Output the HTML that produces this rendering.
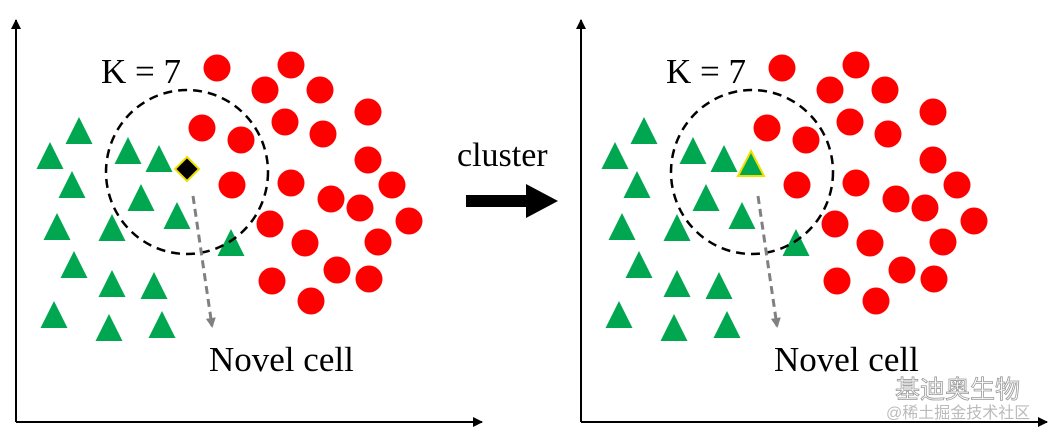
<!DOCTYPE html><html><head><style>body{margin:0;background:#fff}</style></head><body>
<svg width="1062" height="439" xmlns="http://www.w3.org/2000/svg">
<defs>
<marker id="ah" markerWidth="10" markerHeight="10" refX="9" refY="5" orient="auto" markerUnits="userSpaceOnUse"><path d="M0,0 L10,5 L0,10 z" fill="#000"/></marker>
<marker id="gh" markerWidth="10" markerHeight="10" refX="8" refY="5" orient="auto" markerUnits="userSpaceOnUse"><path d="M0,0 L10,5 L0,10 z" fill="#808080"/></marker>
<g id="pts">
<g fill="#ff0000">
<circle cx="217" cy="68" r="13.5"/><circle cx="291" cy="65" r="13.5"/><circle cx="265" cy="90" r="13.5"/><circle cx="320" cy="90" r="13.5"/><circle cx="368" cy="112" r="13.5"/><circle cx="202" cy="128" r="13.5"/><circle cx="285" cy="122" r="13.5"/><circle cx="241" cy="140" r="13.5"/><circle cx="323" cy="134" r="13.5"/><circle cx="368" cy="160" r="13.5"/><circle cx="232" cy="185" r="13.5"/><circle cx="291" cy="183" r="13.5"/><circle cx="392" cy="185" r="13.5"/><circle cx="331" cy="199" r="13.5"/><circle cx="360" cy="208" r="13.5"/><circle cx="409" cy="221" r="13.5"/><circle cx="270" cy="224" r="13.5"/><circle cx="305" cy="243" r="13.5"/><circle cx="378" cy="242" r="13.5"/><circle cx="337" cy="270" r="13.5"/><circle cx="369" cy="279" r="13.5"/><circle cx="272" cy="281" r="13.5"/><circle cx="311" cy="301" r="13.5"/>
</g>
<g fill="#00a650">
<path d="M79,117 l13.5,27 h-27z"/><path d="M50,142 l13.5,27 h-27z"/><path d="M128,137 l13.5,27 h-27z"/><path d="M159,145 l13.5,27 h-27z"/><path d="M72,171 l13.5,27 h-27z"/><path d="M141,184 l13.5,27 h-27z"/><path d="M177,202 l13.5,27 h-27z"/><path d="M57,213 l13.5,27 h-27z"/><path d="M112,214 l13.5,27 h-27z"/><path d="M231,229 l13.5,27 h-27z"/><path d="M74,251 l13.5,27 h-27z"/><path d="M112,270 l13.5,27 h-27z"/><path d="M154,272 l13.5,27 h-27z"/><path d="M54,301 l13.5,27 h-27z"/><path d="M109,314 l13.5,27 h-27z"/><path d="M162,311 l13.5,27 h-27z"/>
</g>
<ellipse cx="187" cy="172" rx="81" ry="82" fill="none" stroke="#000" stroke-width="2.5" stroke-dasharray="9,6"/>
<line x1="193" y1="196" x2="212" y2="326" stroke="#808080" stroke-width="3" stroke-dasharray="8,5" marker-end="url(#gh)"/>
<line x1="16" y1="422" x2="16" y2="20" stroke="#000" stroke-width="2" marker-end="url(#ah)"/>
<line x1="16" y1="422" x2="482" y2="422" stroke="#000" stroke-width="2" marker-end="url(#ah)"/>
<text x="101" y="83" font-family="Liberation Serif" font-size="35">K = 7</text>
<text x="209" y="371" font-family="Liberation Serif" font-size="35">Novel cell</text>
</g>
</defs>
<use href="#pts"/>
<path d="M187,157 l12,12 l-12,12 l-12,-12z" fill="#000" stroke="#f0e000" stroke-width="2"/>
<use href="#pts" x="565"/>
<path d="M751,151 l13,25 h-26z" fill="#00a650" stroke="#f0e000" stroke-width="2"/>
<text x="457" y="166" font-family="Liberation Serif" font-size="34">cluster</text>
<line x1="466" y1="201" x2="530" y2="201" stroke="#000" stroke-width="12"/>
<path d="M526,184 L558,201 L526,218z" fill="#000"/>
<text x="895" y="398" font-family="Liberation Sans, Noto Sans CJK SC, sans-serif" font-size="25" fill="#fff" stroke="#999" stroke-width="0.8">基迪奥生物</text>
<text x="886" y="418" font-family="Liberation Sans, Noto Sans CJK SC, sans-serif" font-size="16" fill="#bbb">@稀土掘金技术社区</text>
</svg>
</body></html>
